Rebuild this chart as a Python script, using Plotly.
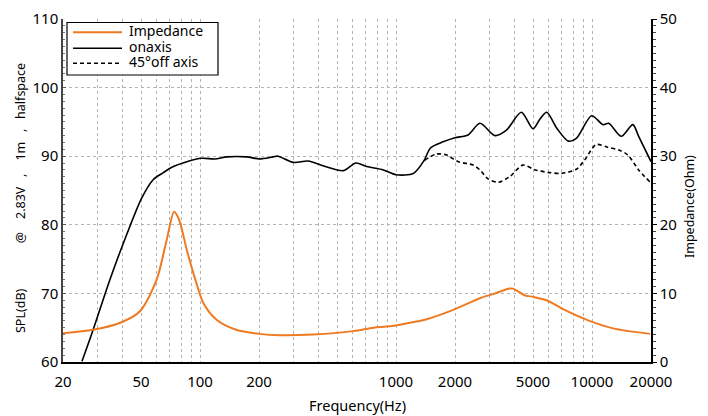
import numpy as np
import plotly.graph_objects as go

# ---- data ----
onaxis_f = [25, 28.5, 34.7, 43.9, 50.4, 57.8, 65, 71.8, 85.7, 102, 119, 137, 173, 201, 236, 250,
            300, 356, 436, 539, 624, 709, 862, 1000, 1228, 1386, 1500, 1740, 2000, 2330, 2680,
            3200, 3660, 4360, 5000, 5450, 5880, 6600, 7580, 8320, 9960, 11380, 12170, 14100,
            16150, 17300, 20000]
onaxis_db = [60.1, 64.7, 72.0, 79.8, 83.9, 86.6, 87.6, 88.4, 89.2, 89.7, 89.6, 89.9, 89.9, 89.6,
             89.9, 90.0, 89.1, 89.3, 88.5, 87.9, 89.0, 88.5, 88.0, 87.3, 87.5, 89.3, 91.2, 92.1,
             92.7, 93.1, 94.8, 93.0, 93.8, 96.4, 94.0, 95.5, 96.4, 94.1, 92.2, 92.6, 95.9, 94.6,
             94.8, 92.9, 94.6, 92.9, 89.2]

off45_f = [1400, 1600, 1800, 2080, 2480, 2680, 2950, 3320, 3800, 4440, 5130, 6100, 7000, 8320,
           9200, 10500, 12000, 13700, 15200, 17300, 20000]
off45_db = [89.4, 90.3, 90.2, 89.2, 88.7, 88.0, 86.7, 86.2, 87.0, 88.7, 88.0, 87.6, 87.5, 88.1,
            89.5, 91.7, 91.3, 90.9, 90.2, 88.0, 86.1]

imp_f = [20, 28.5, 39.8, 49.4, 60.1, 67.6, 73.8, 78.3, 85.7, 94.7, 104, 121, 153, 201, 255, 378,
         606, 768, 932, 1270, 1420, 1960, 2680, 3120, 3800, 3950, 4560, 5000, 5880, 7120, 9700,
         12800, 15400, 19800]
imp_ohm = [4.2, 4.7, 5.8, 7.4, 12.0, 17.8, 21.9, 20.7, 16.3, 12.0, 8.6, 6.2, 4.7, 4.1, 3.9, 4.0,
           4.5, 5.0, 5.2, 5.9, 6.2, 7.6, 9.3, 9.9, 10.7, 10.7, 9.7, 9.5, 9.0, 7.7, 6.0, 4.9, 4.5, 4.1]

series_names = ["Impedance", "onaxis", "45°off axis"]

x_tickvals = [20, 50, 100, 200, 1000, 2000, 5000, 10000, 20000]
x_ticktext = ["20", "50", "100", "200", "1000", "2000", "5000", "10000", "20000"]
x_minor = [30, 40, 60, 70, 80, 90, 300, 400, 500, 600, 700, 800, 900,
           3000, 4000, 6000, 7000, 8000, 9000]

FONT = "Noto Sans"
ORANGE = "#EE7a22"
GRID = "#b4b4b4"

# the page body has an 8px default margin: the figure is drawn 8px right/down
OFF = 8
W, H = 708 - OFF, 416 - OFF
ML, MR, MT, MB = 63 - OFF, 57, 19 - OFF, 54
PW, PH = W - ML - MR, H - MT - MB


# helpers: picture pixel -> paper coordinate
def px(x):
    return (x - OFF - ML) / PW


def py(y):
    return 1 - (y - OFF - MT) / PH


fig = go.Figure()
styles = [dict(color=ORANGE, width=2), dict(color="black", width=1.6),
          dict(color="black", width=1.6, dash="4px,3px")]
fig.add_trace(go.Scatter(x=imp_f, y=imp_ohm, name=series_names[0], yaxis="y2", mode="lines",
                         line=dict(**styles[0], shape="spline", smoothing=0.8)))
fig.add_trace(go.Scatter(x=onaxis_f, y=onaxis_db, name=series_names[1], mode="lines",
                         line=dict(**styles[1], shape="spline", smoothing=0.8)))
fig.add_trace(go.Scatter(x=off45_f, y=off45_db, name=series_names[2], mode="lines",
                         line=dict(**styles[2], shape="spline", smoothing=0.8)))

nb = "\u00a0"
ytitle = ("SPL(dB)" + nb * 14 + "@" + nb * 4 + "2.83V" + nb * 3 + "," + nb * 4 + "1m" + nb * 3 +
          "," + nb * 3 + "halfspace")

shapes = []
annotations = []
# legend box (custom, to match the compact reference legend)
shapes.append(dict(type="rect", xref="paper", yref="paper", x0=px(67), x1=px(218),
                   y0=py(75), y1=py(22.5), line=dict(color="black", width=1.2),
                   fillcolor="white", layer="above"))
rows = [32.3, 48.3, 63.3]
for name, st, ry in zip(series_names, styles, rows):
    shapes.append(dict(type="line", xref="paper", yref="paper", x0=px(73), x1=px(122),
                       y0=py(ry), y1=py(ry), line=st, layer="above"))
    annotations.append(dict(text=name, xref="paper", yref="paper", x=px(127), y=py(ry - 1.5),
                            xanchor="left", yanchor="middle", showarrow=False,
                            font=dict(size=14, family=FONT, color="black")))

annotations.append(dict(text=ytitle, xref="paper", yref="paper", x=px(20), y=py(198),
                        xanchor="center", yanchor="middle", textangle=-90, showarrow=False,
                        font=dict(size=12.5, family=FONT, color="black")))
annotations.append(dict(text="Impedance(Ohm)", xref="paper", yref="paper", x=px(690), y=py(207),
                        xanchor="center", yanchor="middle", textangle=-90, showarrow=False,
                        font=dict(size=12.5, family=FONT, color="black")))
annotations.append(dict(text="Frequency(Hz)", xref="paper", yref="paper", x=px(357), y=py(405),
                        xanchor="center", yanchor="middle", showarrow=False,
                        font=dict(size=14.5, family=FONT, color="black")))

fig.update_layout(
    width=W, height=H,
    margin=dict(l=ML, r=MR, t=MT, b=MB, autoexpand=False),
    plot_bgcolor="white", paper_bgcolor="white",
    font=dict(family=FONT, color="black"),
    showlegend=False,
    shapes=shapes, annotations=annotations,
    xaxis=dict(type="log", range=[np.log10(20), np.log10(20000)],
               tickvals=x_tickvals, ticktext=x_ticktext, automargin=False,
               tickfont=dict(size=15), showgrid=True, gridcolor=GRID, griddash="dot",
               gridwidth=1,
               minor=dict(tickvals=x_minor, showgrid=True, gridcolor=GRID, griddash="dot",
                          gridwidth=1, ticks=""),
               showline=True, linecolor="black", linewidth=1.5,
               ticks="outside", ticklen=5, tickcolor="rgba(0,0,0,0)",
               zeroline=False),
    yaxis=dict(range=[60, 110], dtick=10, tickfont=dict(size=15), automargin=False,
               showgrid=True, gridcolor=GRID, griddash="dot", gridwidth=1,
               showline=True, linecolor="#444", linewidth=1.5,
               ticks="inside", ticklen=3, tickcolor="#555",
               minor=dict(dtick=1, ticks="inside", ticklen=2, tickcolor="#777"),
               zeroline=False),
    yaxis2=dict(range=[0, 50], dtick=10, overlaying="y", side="right", automargin=False,
                tickfont=dict(size=15), showgrid=False,
                showline=True, linecolor="black", linewidth=1.5,
                ticks="outside", ticklen=4, tickcolor="black",
                minor=dict(dtick=1, ticks="outside", ticklen=3, tickcolor="#444"),
                zeroline=False),
)

fig.write_html("out.html")
